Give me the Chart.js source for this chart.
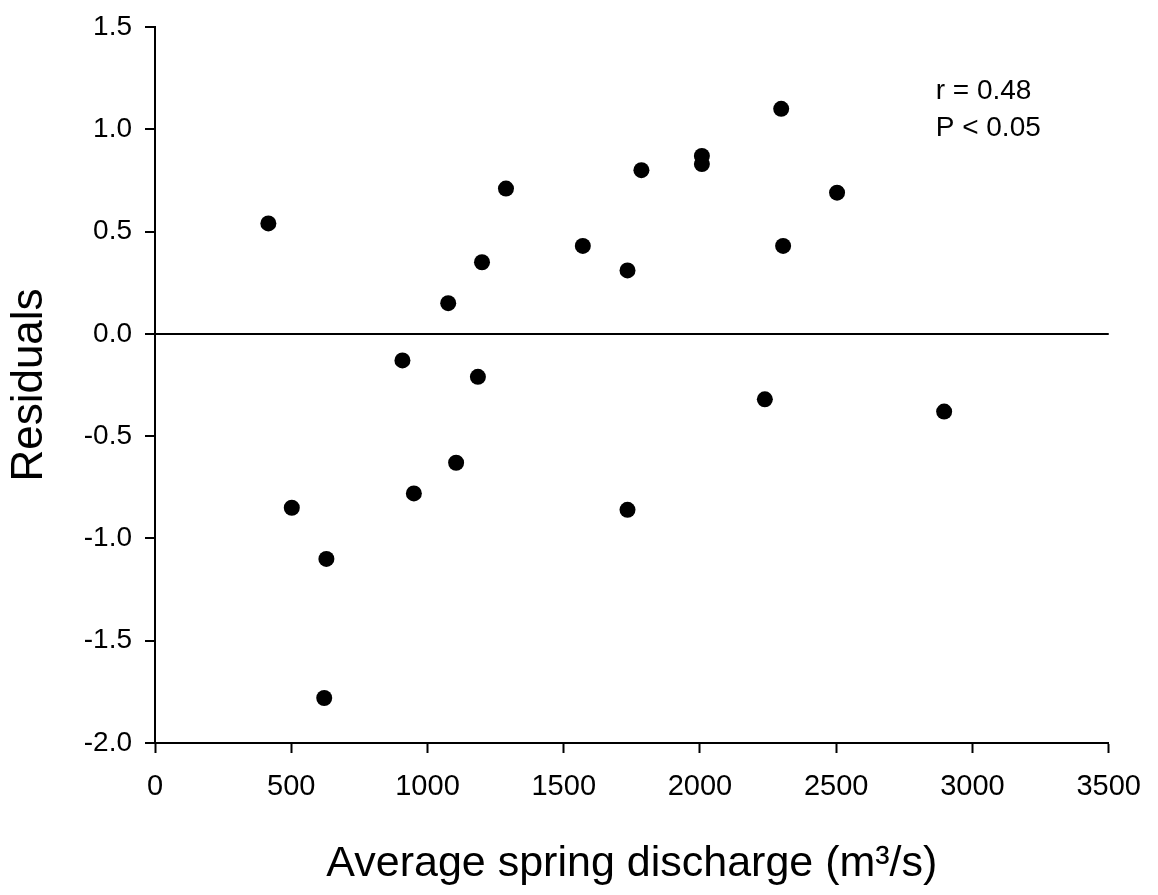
<!DOCTYPE html>
<html lang="en">
<head>
  <meta charset="UTF-8" />
  <title>Residuals vs average spring discharge</title>
  <script src="https://cdn.jsdelivr.net/npm/chart.js"></script>
  <style>
    html, body { margin: 0; padding: 0; background: #fff; }
    #wrap { width: 1158px; height: 895px; }
  </style>
</head>
<body>
  <div id="wrap"><canvas id="graphique"></canvas></div>

  <script>
    // values
    const discharge = [416, 502, 621, 629, 908, 950, 1076, 1105, 1185, 1200, 1288,
                       1570, 1734, 1734, 1785, 2007, 2007, 2238, 2298, 2305, 2503, 2896];
    const residuals = [0.54, -0.85, -1.78, -1.10, -0.13, -0.78, 0.15, -0.63, -0.21, 0.35, 0.71,
                       0.43, 0.31, -0.86, 0.80, 0.87, 0.83, -0.32, 1.10, 0.43, 0.69, -0.38];
    const statText = ['r = 0.48', 'P < 0.05'];

    const font = '"Liberation Sans", Arial, Helvetica, sans-serif';

    const statLabel = {
      id: 'statLabel',
      afterDraw(chart) {
        const ctx = chart.ctx;
        const x = chart.scales.x.getPixelForValue(2865);
        const y = chart.scales.y.getPixelForValue(1.15);
        ctx.save();
        ctx.fillStyle = '#000';
        ctx.font = '28px ' + font;
        ctx.textBaseline = 'alphabetic';
        statText.forEach((t, i) => ctx.fillText(t, x, y + i * 37));
        ctx.restore();
      }
    };

    const ctx = document.getElementById('graphique').getContext('2d');

    new Chart(ctx, {
      type: 'scatter',
      data: {
        datasets: [{
          data: discharge.map((d, i) => ({ x: d, y: residuals[i] })),
          backgroundColor: '#000',
          borderWidth: 0,
          pointRadius: 8,
          pointHoverRadius: 8
        }]
      },
      options: {
        responsive: true,
        maintainAspectRatio: false,
        animation: false,
        layout: { padding: { top: 25, right: 40, left: 0, bottom: 0 } },
        plugins: { legend: { display: false }, tooltip: { enabled: false } },
        scales: {
          x: {
            type: 'linear',
            min: 0,
            max: 3500,
            ticks: {
              stepSize: 500,
              color: '#000',
              font: { family: font, size: 29 },
              padding: 17,
              maxRotation: 0,
              callback: v => String(v)
            },
            grid: { drawOnChartArea: false, tickLength: 10, tickColor: '#000', tickWidth: 2 },
            border: { color: '#000', width: 2 },
            title: {
              display: true,
              text: 'Average spring discharge (m³/s)',
              color: '#000',
              font: { family: font, size: 43, lineHeight: 1 },
              padding: { top: 0, bottom: 9 }
            },
            afterFit(scale) { scale.height = 152; }
          },
          y: {
            min: -2,
            max: 1.5,
            ticks: {
              stepSize: 0.5,
              color: '#000',
              font: { family: font, size: 28, lineHeight: 1 },
              padding: 13,
              callback: v => v.toFixed(1)
            },
            grid: {
              color: c => (c.tick && c.tick.value === 0 ? '#000' : 'rgba(0,0,0,0)'),
              lineWidth: 2,
              tickLength: 10,
              tickColor: '#000',
              tickWidth: 2
            },
            border: { color: '#000', width: 2 },
            title: {
              display: true,
              text: 'Residuals',
              color: '#000',
              font: { family: font, size: 44, lineHeight: 1 },
              padding: { top: 8, bottom: 0 }
            },
            afterFit(scale) { scale.width = 155; }
          }
        }
      },
      plugins: [statLabel]
    });
  </script>
</body>
</html>
